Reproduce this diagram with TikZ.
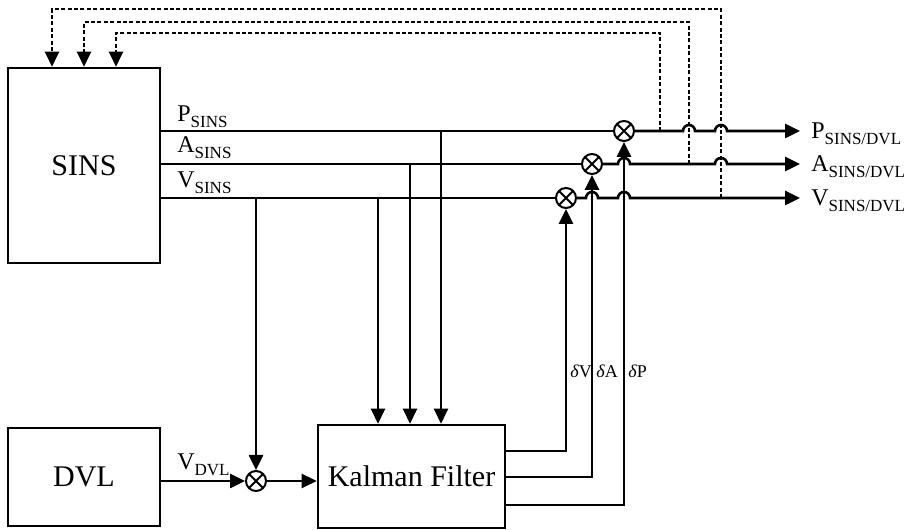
\documentclass[tikz,border=0pt]{standalone}
\usepackage{fontspec}
\setmainfont{Liberation Serif}
\usetikzlibrary{arrows.meta,positioning}
\newcommand{\lowsub}[1]{\raisebox{-3pt}{\fontsize{8.5}{10}\selectfont #1}}
\begin{document}
\begin{tikzpicture}[x=0.5pt, y=0.5pt, line width=1.3pt, >={Triangle[length=7.5pt,width=7pt]},
    block/.style={draw, inner sep=0pt, font=\fontsize{15}{18}\selectfont},
    sum/.style={circle, draw, line width=1pt, minimum size=10pt, inner sep=0pt,
        path picture={\draw[line width=1pt] (path picture bounding box.north west) -- (path picture bounding box.south east)
            (path picture bounding box.north east) -- (path picture bounding box.south west);}},
    sig/.style={font=\fontsize{12}{14}\selectfont, inner sep=0pt, anchor=base west},
    err/.style={font=\fontsize{9}{11}\selectfont, inner sep=0pt, anchor=base west},
    fb/.style={dash pattern=on 2pt off 1.2pt}]
    \useasboundingbox (0,0) rectangle (907,530);
    \node[block, minimum width=76pt, minimum height=97.5pt] (sins) at (84,364.5) {SINS};
    \node[block, minimum width=76pt, minimum height=49pt] (dvl) at (84,53) {DVL};
    \node[block, minimum width=93.5pt, minimum height=51.5pt] (kf) at (411.5,53.5) {Kalman Filter};
    \node[sum] (sp) at (624,399) {};
    \node[sum] (sa) at (592,366) {};
    \node[sum] (sv) at (566,332) {};
    \node[sum] (sd) at (256,49) {};
    \coordinate (pout) at (800,399);
    \coordinate (aout) at (800,366);
    \coordinate (vout) at (800,332);
    \draw (sins.east |- sp) -- (sp);
    \draw (sins.east |- sa) -- (sa);
    \draw (sins.east |- sv) -- (sv);
    \draw[->] (sp) -- (683,399) arc[start angle=180, end angle=0, radius=6] -- (715,399) arc[start angle=180, end angle=0, radius=6] -- (pout);
    \draw[->] (sa) -- (618,366) arc[start angle=180, end angle=0, radius=6] -- (715,366) arc[start angle=180, end angle=0, radius=6] -- (aout);
    \draw[->] (sv) -- (586,332) arc[start angle=180, end angle=0, radius=6] -- (618,332) arc[start angle=180, end angle=0, radius=6] -- (vout);
    \node[sig] (lp) at (176,408) {P\lowsub{SINS}};
    \node[sig] (la) at (176,377) {A\lowsub{SINS}};
    \node[sig] (lv) at (176,342) {V\lowsub{SINS}};
    \node[sig] (lpo) at (810,391) {P\lowsub{SINS/DVL}};
    \node[sig] (lao) at (810,358) {A\lowsub{SINS/DVL}};
    \node[sig] (lvo) at (810,324) {V\lowsub{SINS/DVL}};
    \coordinate (dp) at (441,399);
    \coordinate (da) at (410,366);
    \coordinate (dv) at (378,332);
    \coordinate (dd) at (256,332);
    \draw[->] (dp) -- (dp |- kf.north);
    \draw[->] (da) -- (da |- kf.north);
    \draw[->] (dv) -- (dv |- kf.north);
    \draw[->] (dd) -- (sd);
    \draw[->] (dvl.east |- sd) -- (sd);
    \draw[->] (sd) -- (sd -| kf.west);
    \node[sig] (ldvl) at (176,60) {V\lowsub{DVL}};
    \coordinate (ev) at (kf.east |- 0,79);
    \coordinate (ea) at (kf.east |- 0,53);
    \coordinate (ep) at (kf.east |- 0,25);
    \draw[->] (ev) -| (sv);
    \draw[->] (ea) -| (sa);
    \draw[->] (ep) -| (sp);
    \node[err] (lev) at (569,152) {\textit{δ}V};
    \node[err] (lea) at (595,152) {\textit{δ}A};
    \node[err] (lep) at (627,152) {\textit{δ}P};
    \coordinate (fp) at (660,399);
    \coordinate (fa) at (689,366);
    \coordinate (fv) at (721,332);
    \coordinate (fpt) at (116,497);
    \coordinate (fat) at (84,508);
    \coordinate (fvt) at (52,521);
    \draw[fb,->] (fp) |- (fpt) -- (fpt |- sins.north);
    \draw[fb,->] (fa) |- (fat) -- (fat |- sins.north);
    \draw[fb,->] (fv) |- (fvt) -- (fvt |- sins.north);
\end{tikzpicture}
\end{document}
